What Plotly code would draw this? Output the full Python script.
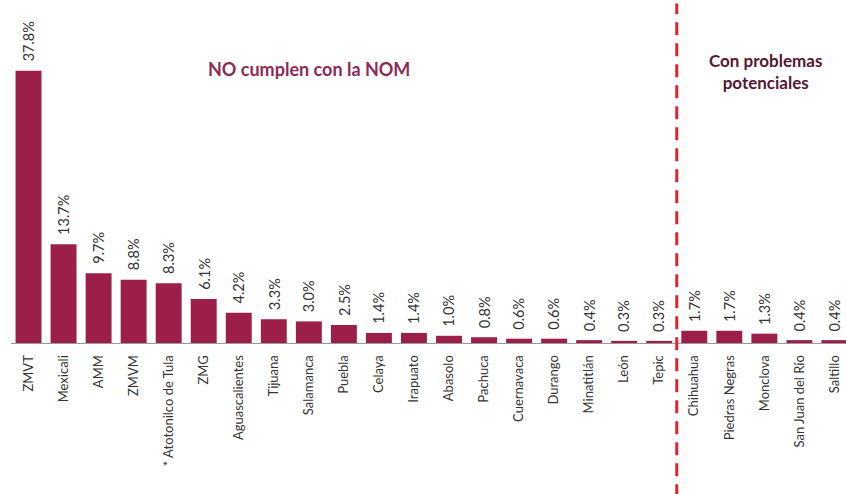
import plotly.graph_objects as go

# Cities / metro areas and their share (%)
ciudades = ["ZMVT", "Mexicali", "AMM", "ZMVM", "* Atotonilco de Tula", "ZMG",
            "Aguascalientes", "Tijuana", "Salamanca", "Puebla", "Celaya", "Irapuato",
            "Abasolo", "Pachuca", "Cuernavaca", "Durango", "Minatitlán", "León", "Tepic",
            "Chihuahua", "Piedras Negras", "Monclova", "San Juan del Río", "Saltillo"]
porcentajes = [37.8, 13.7, 9.7, 8.8, 8.3, 6.1, 4.2, 3.3, 3.0, 2.5, 1.4, 1.4,
               1.0, 0.8, 0.6, 0.6, 0.4, 0.3, 0.3, 1.7, 1.7, 1.3, 0.4, 0.4]
n_no_cumplen = 19  # first group: cities that do not comply

BAR = "#9b1f48"
FONT = "Lato, 'Open Sans', sans-serif"
idx = list(range(len(ciudades)))

fig = go.Figure(go.Bar(
    x=idx, y=porcentajes, width=0.74,
    marker=dict(color=BAR, line=dict(width=0)),
    hoverinfo="skip",
))

# value labels above each bar
for i, v in zip(idx, porcentajes):
    fig.add_annotation(x=i, y=v, text=f"{v:.1f}%", textangle=-90,
                       xanchor="center", yanchor="bottom", yshift=7,
                       showarrow=False,
                       font=dict(family=FONT, size=14.5, color="#333333"))

# divider between the two groups
fig.add_shape(type="line", xref="x", yref="paper",
              x0=n_no_cumplen - 0.5, x1=n_no_cumplen - 0.5, y0=-0.45, y1=0.99,
              line=dict(color="#e3222b", width=3, dash="13px,8px"))

fig.add_annotation(x=8.0, y=38.0, xref="x", yref="y", text="<b>NO cumplen con la NOM</b>",
                   showarrow=False, xanchor="center", yanchor="middle",
                   font=dict(family=FONT, size=18, color="#8e2a56"))
fig.add_annotation(x=21.03, y=37.7, xref="x", yref="y",
                   text="<b>Con problemas<br>potenciales</b>",
                   showarrow=False, xanchor="center", yanchor="middle",
                   font=dict(family=FONT, size=17, color="#561632"))

fig.update_layout(
    width=846, height=494,
    margin=dict(l=11, r=0, t=0, b=151),
    paper_bgcolor="white", plot_bgcolor="white",
    showlegend=False,
    xaxis=dict(range=[-0.5, 23.33], tickmode="array", tickvals=idx, ticktext=ciudades,
               tickangle=-90, showgrid=False, zeroline=False,
               showline=True, linecolor="#9a9a9a", linewidth=1,
               ticks="", ticklabelstandoff=6,
               tickfont=dict(family=FONT, size=13, color="#333333")),
    yaxis=dict(range=[0, 47.64], visible=False, showgrid=False, zeroline=False),
)

fig.write_html("out.html")
